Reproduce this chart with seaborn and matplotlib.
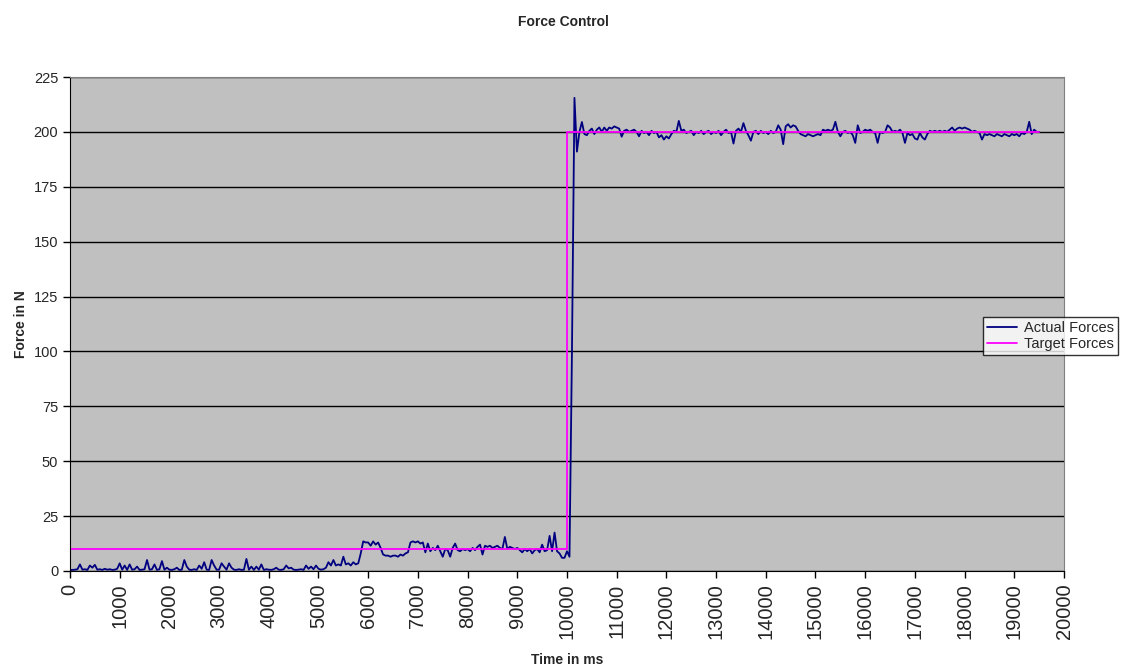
import numpy as np
import pandas as pd
import matplotlib
matplotlib.use("Agg")
import matplotlib.pyplot as plt
import seaborn as sns

# actual force readings, one row per second (50 ms samples)
actual_rows = [
    [0.5, 0.5, 0.6, 0.8, 3.0, 0.6, 0.8, 0.5, 2.5, 1.5, 2.8, 0.6, 0.8, 0.5, 1.0, 0.6, 0.8, 0.5, 0.6, 1.0],
    [3.5, 0.6, 2.5, 0.5, 3.0, 0.6, 0.8, 2.0, 0.5, 0.6, 0.8, 5.0, 0.6, 0.8, 3.0, 0.5, 0.8, 4.5, 0.6, 1.5],
    [0.6, 0.5, 0.8, 1.5, 0.5, 0.6, 5.0, 2.0, 0.6, 0.5, 0.8, 0.5, 2.5, 1.0, 4.0, 0.6, 0.5, 5.0, 2.5, 0.6],
    [0.6, 3.5, 2.0, 0.6, 3.5, 1.5, 0.6, 0.5, 0.8, 0.5, 0.6, 5.5, 0.6, 2.0, 0.5, 2.0, 0.6, 3.0, 0.5, 0.8],
    [0.6, 0.5, 0.8, 1.5, 0.6, 0.5, 0.8, 2.5, 1.2, 1.5, 0.6, 0.5, 0.6, 0.8, 0.5, 2.5, 1.0, 2.0, 0.8, 2.5],
    [1.0, 0.6, 0.8, 1.5, 4.0, 2.5, 5.0, 2.5, 3.0, 2.5, 6.5, 3.0, 3.5, 2.5, 4.0, 3.0, 3.5, 8.0, 13.5, 13.0],
    [13.0, 11.5, 13.5, 12.0, 13.0, 10.5, 7.5, 7.0, 7.0, 6.5, 7.0, 7.0, 6.5, 7.5, 7.0, 8.0, 8.5, 13.0, 13.5, 13.0],
    [13.5, 12.5, 13.0, 8.5, 12.5, 9.0, 10.5, 9.5, 11.5, 9.0, 6.5, 10.0, 9.5, 6.5, 10.5, 12.5, 9.5, 9.0, 10.0, 9.5],
    [10.0, 9.0, 10.5, 9.5, 11.0, 12.0, 7.5, 11.5, 11.0, 11.5, 10.5, 11.0, 11.5, 10.5, 10.0, 15.5, 10.0, 11.0, 10.5, 10.0],
    [10.5, 9.5, 8.5, 10.0, 9.0, 10.0, 8.0, 9.5, 10.0, 8.5, 12.0, 9.0, 9.5, 16.0, 9.0, 17.5, 9.0, 8.0, 6.0, 6.0],
    [9.0, 6.5, 100.0, 215.5, 191.0, 200.0, 204.5, 199.0, 198.5, 200.5, 201.5, 199.0, 201.0, 202.0, 200.0, 202.0, 200.5, 202.0, 201.5, 202.5],
    [202.0, 201.5, 197.8, 200.5, 201.0, 200.0, 200.5, 201.0, 200.0, 198.0, 200.5, 199.5, 200.0, 198.5, 200.5, 199.5, 200.0, 197.5, 198.5, 196.5],
    [198.0, 197.0, 199.0, 200.5, 200.0, 205.0, 200.5, 201.0, 199.5, 200.0, 200.5, 198.5, 200.0, 199.5, 200.5, 199.0, 200.0, 200.5, 199.0, 200.0],
    [199.5, 200.5, 198.5, 200.0, 201.0, 199.5, 200.0, 194.7, 200.5, 201.5, 200.0, 204.0, 200.5, 198.5, 196.0, 200.0, 200.5, 199.0, 200.5, 199.5],
    [200.0, 199.0, 200.5, 199.5, 200.0, 203.0, 201.0, 194.4, 202.5, 203.5, 202.0, 203.0, 202.5, 200.5, 199.0, 198.5, 198.0, 199.0, 198.5, 198.0],
    [198.5, 199.0, 198.5, 201.0, 200.5, 201.0, 200.5, 201.0, 204.6, 200.0, 198.0, 200.0, 200.5, 199.5, 200.0, 198.5, 195.0, 203.0, 199.5, 200.0],
    [201.0, 200.5, 201.0, 200.0, 199.5, 195.0, 200.0, 199.5, 200.0, 203.0, 202.0, 200.0, 200.5, 200.0, 201.0, 199.5, 195.0, 199.5, 198.5, 199.0],
    [197.0, 196.5, 199.5, 197.5, 196.5, 199.0, 200.5, 200.0, 200.5, 200.0, 200.5, 200.0, 200.5, 200.0, 201.0, 202.0, 200.5, 201.5, 202.0, 201.5],
    [202.0, 201.5, 201.0, 200.0, 200.5, 200.0, 199.5, 196.5, 199.0, 198.5, 199.0, 198.5, 198.0, 199.0, 198.5, 198.0, 199.0, 198.5, 198.0, 199.0],
    [198.5, 199.0, 198.0, 199.5, 199.0, 200.0, 204.6, 199.0, 201.0, 200.0, 200.0],
]
actual_force = [v for row in actual_rows for v in row]
sample_ms = 50
actual_time = np.arange(len(actual_force)) * sample_ms

# target setpoint
target_time = [0, 10000, 10000, 19500]
target_force = [10, 10, 200, 200]

df = pd.DataFrame({"Time": list(actual_time) + target_time,
                   "Force": actual_force + target_force,
                   "Series": ["Actual Forces"] * len(actual_force) + ["Target Forces"] * len(target_force)})

sns.set_style("white")
plt.rcParams['font.family'] = ['Liberation Sans', 'DejaVu Sans']

fig = plt.figure(figsize=(11.27, 6.69), dpi=100)
ax = fig.add_axes([0.0621, 0.1465, 0.882, 0.7384])
ax.set_facecolor('#c0c0c0')

sns.lineplot(data=df, x="Time", y="Force", hue="Series", estimator=None, sort=False,
             palette={"Actual Forces": "#000080", "Target Forces": "#ff00ff"},
             linewidth=1.3, ax=ax)

ax.set_xlim(0, 20000)
ax.set_ylim(0, 225)
ax.set_xticks(range(0, 20001, 1000))
ax.set_yticks(range(0, 226, 25))
ax.set_xticklabels([str(v) for v in range(0, 20001, 1000)], rotation=90, fontsize=14.5)
ax.tick_params(axis='y', labelsize=10.5, length=5, width=1, color='black', direction='out', left=True)
ax.tick_params(axis='x', length=5, width=1, color='black', direction='out', bottom=True, pad=4)
ax.yaxis.grid(True, color='black', linewidth=1)
ax.set_axisbelow(True)

for s in ['top', 'right']:
    ax.spines[s].set_color('#808080')
for s in ['left', 'bottom']:
    ax.spines[s].set_color('black')

ax.set_xlabel("Time in ms", fontsize=10, fontweight='bold', labelpad=10)
ax.set_ylabel("Force in N", fontsize=10, fontweight='bold', labelpad=4)
fig.suptitle("Force Control", fontsize=10, fontweight='bold', y=0.978)

leg = ax.legend(loc='center left', bbox_to_anchor=(983 / 1127, 1 - 336 / 669),
                bbox_transform=fig.transFigure, frameon=True, fancybox=False,
                fontsize=10.5, borderpad=0.3, labelspacing=0.15, handlelength=2.0,
                handletextpad=0.5, borderaxespad=0)
leg.get_frame().set_edgecolor('black')
leg.get_frame().set_linewidth(1)

fig.savefig("out.png", dpi=100, facecolor='white')
